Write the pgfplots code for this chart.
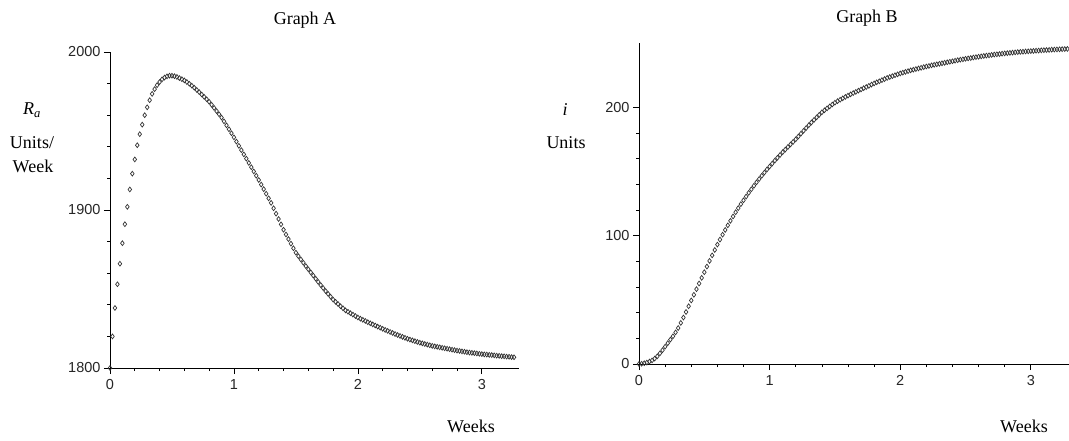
\documentclass[border=0pt]{standalone}
\usepackage{fontspec}
\setmainfont{Liberation Serif}
\newfontfamily\ticksans{Liberation Sans}
\usepackage{pgfplots}
\pgfplotsset{compat=1.18}
\usepackage{pgfplotstable}

\pgfplotstableread{
x y
0.00 1800
0.02 1820
0.04 1838
0.06 1853
0.08 1866
0.10 1879
0.12 1891
0.14 1902
0.16 1913
0.18 1923
0.20 1932
0.22 1941
0.24 1948
0.26 1954
0.28 1960
0.30 1965
0.32 1969.5
0.34 1973.5
0.36 1976.5
0.38 1979
0.40 1981
0.42 1982.7
0.44 1983.8
0.46 1984.6
0.48 1985
0.50 1985
0.52 1984.7
0.54 1984.2
0.56 1983.5
0.58 1982.8
0.60 1982.0
0.62 1981.0
0.64 1979.9
0.66 1978.7
0.68 1977.4
0.70 1976.0
0.72 1974.6
0.74 1973.1
0.76 1971.6
0.78 1970.1
0.80 1968.5
0.82 1966.6
0.84 1964.6
0.86 1962.6
0.88 1960.6
0.90 1958.5
0.92 1956.1
0.94 1953.6
0.96 1951.1
0.98 1948.6
1.00 1946.0
1.02 1943.3
1.04 1940.6
1.06 1937.9
1.08 1935.2
1.10 1932.5
1.12 1929.8
1.14 1927.1
1.16 1924.4
1.18 1921.7
1.20 1919.0
1.22 1916.1
1.24 1913.2
1.26 1910.3
1.28 1907.4
1.30 1904.5
1.32 1901.1
1.34 1897.7
1.36 1894.3
1.38 1890.9
1.40 1887.5
1.42 1884.5
1.44 1881.6
1.46 1878.7
1.48 1875.8
1.50 1873.0
1.52 1870.8
1.54 1868.7
1.56 1866.6
1.58 1864.5
1.60 1862.5
1.62 1860.5
1.64 1858.5
1.66 1856.5
1.68 1854.5
1.70 1852.5
1.72 1850.6
1.74 1848.7
1.76 1846.9
1.78 1845.1
1.80 1843.3
1.82 1841.9
1.84 1840.5
1.86 1839.1
1.88 1837.8
1.90 1836.5
1.92 1835.6
1.94 1834.7
1.96 1833.8
1.98 1832.9
2.00 1832.0
2.02 1831.2
2.04 1830.5
2.06 1829.8
2.08 1829.0
2.10 1828.3
2.12 1827.6
2.14 1826.9
2.16 1826.2
2.18 1825.5
2.20 1824.8
2.22 1824.1
2.24 1823.5
2.26 1822.8
2.28 1822.2
2.30 1821.5
2.32 1820.9
2.34 1820.3
2.36 1819.7
2.38 1819.1
2.40 1818.5
2.42 1818.0
2.44 1817.5
2.46 1817.0
2.48 1816.5
2.50 1816.0
2.52 1815.6
2.54 1815.2
2.56 1814.8
2.58 1814.4
2.60 1814.0
2.62 1813.7
2.64 1813.4
2.66 1813.1
2.68 1812.8
2.70 1812.5
2.72 1812.2
2.74 1811.9
2.76 1811.6
2.78 1811.3
2.80 1811.0
2.82 1810.8
2.84 1810.5
2.86 1810.3
2.88 1810.0
2.90 1809.8
2.92 1809.6
2.94 1809.4
2.96 1809.2
2.98 1809.0
3.00 1808.8
3.02 1808.6
3.04 1808.5
3.06 1808.3
3.08 1808.2
3.10 1808.0
3.12 1807.8
3.14 1807.7
3.16 1807.5
3.18 1807.4
3.20 1807.2
3.22 1807.1
3.24 1806.9
3.26 1806.8
}\dataA

\pgfplotstableread{
x y
0.00 0
0.02 0.2
0.04 0.6
0.06 1.1
0.08 1.9
0.10 2.8
0.12 4.2
0.14 6.0
0.16 8.3
0.18 10.8
0.20 13.5
0.22 16.2
0.24 19.0
0.26 21.6
0.28 24.6
0.30 28.0
0.32 32.0
0.34 36.2
0.36 40.5
0.38 45.0
0.40 49.5
0.42 53.9
0.44 58.3
0.46 62.7
0.48 67.1
0.50 71.5
0.52 75.9
0.54 80.3
0.56 84.6
0.58 88.8
0.60 93.0
0.62 96.9
0.64 100.7
0.66 104.4
0.68 108.0
0.70 111.5
0.72 114.9
0.74 118.2
0.76 121.4
0.78 124.5
0.80 127.5
0.82 130.4
0.84 133.3
0.86 136.1
0.88 138.8
0.90 141.5
0.92 144.1
0.94 146.6
0.96 149.1
0.98 151.5
1.00 153.8
1.02 156.1
1.04 158.4
1.06 160.6
1.08 162.8
1.10 165.0
1.12 167.0
1.14 169.0
1.16 171.0
1.18 173.0
1.20 175.0
1.22 177.2
1.24 179.4
1.26 181.6
1.28 183.8
1.30 186.0
1.32 188.1
1.34 190.1
1.36 192.1
1.38 194.1
1.40 196.0
1.42 197.6
1.44 199.1
1.46 200.6
1.48 202.1
1.50 203.5
1.52 204.7
1.54 205.8
1.56 206.9
1.58 208.0
1.60 209.0
1.62 210.0
1.64 211.0
1.66 211.9
1.68 212.9
1.70 213.8
1.72 214.8
1.74 215.7
1.76 216.6
1.78 217.6
1.80 218.5
1.82 219.4
1.84 220.2
1.86 221.1
1.88 221.9
1.90 222.8
1.92 223.5
1.94 224.2
1.96 224.9
1.98 225.6
2.00 226.3
2.02 226.9
2.04 227.5
2.06 228.1
2.08 228.7
2.10 229.2
2.12 229.7
2.14 230.2
2.16 230.7
2.18 231.2
2.20 231.7
2.22 232.1
2.24 232.6
2.26 233.0
2.28 233.4
2.30 233.8
2.32 234.2
2.34 234.6
2.36 235.0
2.38 235.4
2.40 235.8
2.42 236.2
2.44 236.6
2.46 237.0
2.48 237.3
2.50 237.7
2.52 238.0
2.54 238.3
2.56 238.7
2.58 239.0
2.60 239.3
2.62 239.6
2.64 239.9
2.66 240.2
2.68 240.4
2.70 240.7
2.72 241.0
2.74 241.2
2.76 241.4
2.78 241.7
2.80 241.9
2.82 242.1
2.84 242.3
2.86 242.5
2.88 242.7
2.90 242.9
2.92 243.1
2.94 243.2
2.96 243.4
2.98 243.5
3.00 243.7
3.02 243.8
3.04 244.0
3.06 244.1
3.08 244.3
3.10 244.4
3.12 244.5
3.14 244.6
3.16 244.8
3.18 244.9
3.20 245.0
3.22 245.1
3.24 245.2
3.26 245.3
3.28 245.4
}\dataB

\begin{document}
\begin{tikzpicture}
\useasboundingbox (0pt,0pt) rectangle (1069pt,440pt);
\pgfplotsset{
  mapleaxis/.style={
    scale only axis,
    axis lines=left,
    axis line style={-, line width=0.9pt, black},
    every outer x axis line/.append style={-},
    every outer y axis line/.append style={-},
    tick align=outside,
    major tick length=6pt,
    minor tick length=3pt,
    every tick/.style={line width=0.7pt, black},
    minor x tick num=4,
    minor y tick num=4,
    tick label style={font=\ticksans\fontsize{14.5}{17}\selectfont, text=black!85},
    xticklabel style={yshift=-2pt},
    /pgf/number format/assume math mode=true,
    /pgf/number format/1000 sep={},
    clip=false,
  },
  maplepts/.style={only marks, mark=diamond, mark size=2.4pt,
    mark options={line width=0.7pt, draw=black!80, fill=none}},
}
\begin{axis}[mapleaxis, at={(110pt,72pt)}, anchor=south west,
  width=409pt, height=316pt,
  xmin=0, xmax=3.3, ymin=1800, ymax=2000,
  xtick={0,1,2,3}, ytick={1800,1900,2000}]
\addplot[maplepts] table {\dataA};
\end{axis}
\begin{axis}[mapleaxis, at={(639pt,76pt)}, anchor=south west,
  width=431pt, height=321pt,
  xmin=0, xmax=3.3, ymin=0, ymax=250,
  xtick={0,1,2,3}, ytick={0,100,200}]
\addplot[maplepts] table {\dataB};
\end{axis}
\begin{scope}[font=\fontsize{18}{21}\selectfont]
\node at (305pt,420pt) {Graph A};
\node at (867pt,422pt) {Graph B};
\node at (32pt,330pt) {\textit{R}\textsubscript{\textit{a}}};
\node at (32pt,297pt) {Units/};
\node at (33pt,274pt) {Week};
\node at (471pt,14pt) {Weeks};
\node at (565pt,330pt) {\textit{i}};
\node at (566pt,297pt) {Units};
\node at (1024pt,14pt) {Weeks};
\end{scope}
\end{tikzpicture}
\end{document}
